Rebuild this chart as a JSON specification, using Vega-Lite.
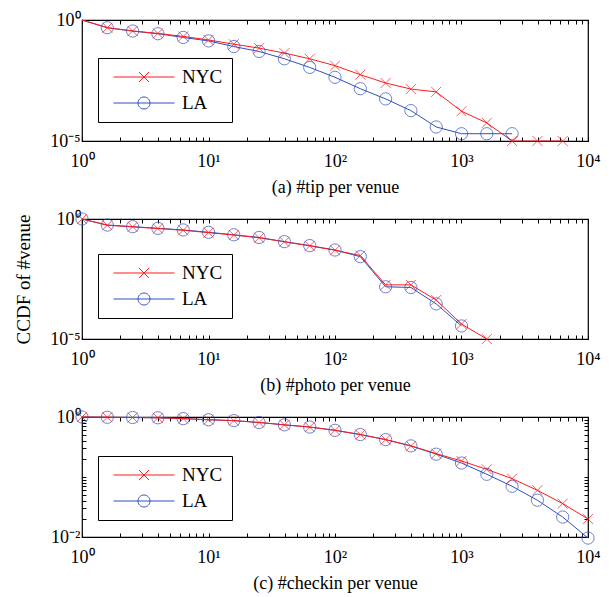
{
  "$schema": "https://vega.github.io/schema/vega-lite/v6.json",
  "padding": {"left": 14, "top": 10, "right": 12, "bottom": 5},
  "background": "white",
  "spacing": 78,
  "bounds": "flush",
  "config": {
    "font": "Liberation Serif",
    "view": {"stroke": "black", "strokeWidth": 1.2},
    "axis": {
      "labelFont": "Liberation Serif", "labelFontSize": 18, "labelColor": "black",
      "titleFont": "Liberation Serif", "titleFontSize": 18, "titleFontWeight": "normal", "titleColor": "black",
      "tickColor": "black", "tickSize": -4, "domain": false, "grid": false,
      "labelOverlap": false, "labelFlush": false, "labelBound": false
    },
    "legend": {
      "orient": "none", "legendX": 16, "legendY": 38, "title": null,
      "strokeColor": "black", "fillColor": "white", "padding": 9,
      "symbolSize": 3721, "symbolStrokeWidth": 1, "symbolFillColor": "transparent", "symbolOffset": 6,
      "labelFont": "Liberation Serif", "labelFontSize": 19, "labelColor": "black",
      "clipHeight": 20, "rowPadding": 6, "labelOffset": 7
    }
  },
  "datasets": {
    "tip": [
      {"city": "LA", "x": 1, "y": 1}, {"city": "LA", "x": 1.585, "y": 0.48}, {"city": "LA", "x": 2.512, "y": 0.35},
      {"city": "LA", "x": 3.981, "y": 0.27}, {"city": "LA", "x": 6.31, "y": 0.19}, {"city": "LA", "x": 10, "y": 0.137},
      {"city": "LA", "x": 15.85, "y": 0.08}, {"city": "LA", "x": 25.12, "y": 0.05}, {"city": "LA", "x": 39.81, "y": 0.025},
      {"city": "LA", "x": 63.1, "y": 0.011}, {"city": "LA", "x": 100, "y": 0.0043}, {"city": "LA", "x": 158.5, "y": 0.00145},
      {"city": "LA", "x": 251.2, "y": 0.00055}, {"city": "LA", "x": 398.1, "y": 0.00018}, {"city": "LA", "x": 631, "y": 0.000038},
      {"city": "LA", "x": 1000, "y": 0.00002}, {"city": "LA", "x": 1585, "y": 0.00002}, {"city": "LA", "x": 2512, "y": 0.00002},
      {"city": "NYC", "x": 1, "y": 1}, {"city": "NYC", "x": 1.585, "y": 0.48}, {"city": "NYC", "x": 2.512, "y": 0.35},
      {"city": "NYC", "x": 3.981, "y": 0.28}, {"city": "NYC", "x": 6.31, "y": 0.21}, {"city": "NYC", "x": 10, "y": 0.15},
      {"city": "NYC", "x": 15.85, "y": 0.1}, {"city": "NYC", "x": 25.12, "y": 0.069}, {"city": "NYC", "x": 39.81, "y": 0.043},
      {"city": "NYC", "x": 63.1, "y": 0.025}, {"city": "NYC", "x": 100, "y": 0.013}, {"city": "NYC", "x": 158.5, "y": 0.0055},
      {"city": "NYC", "x": 251.2, "y": 0.0025}, {"city": "NYC", "x": 398.1, "y": 0.0014}, {"city": "NYC", "x": 631, "y": 0.00107},
      {"city": "NYC", "x": 1000, "y": 0.00017}, {"city": "NYC", "x": 1585, "y": 0.000056}, {"city": "NYC", "x": 2512, "y": 0.00001},
      {"city": "NYC", "x": 3981, "y": 0.00001}, {"city": "NYC", "x": 6310, "y": 0.00001}
    ],
    "photo": [
      {"city": "LA", "x": 1, "y": 1}, {"city": "LA", "x": 1.585, "y": 0.56}, {"city": "LA", "x": 2.512, "y": 0.48},
      {"city": "LA", "x": 3.981, "y": 0.41}, {"city": "LA", "x": 6.31, "y": 0.35}, {"city": "LA", "x": 10, "y": 0.28},
      {"city": "LA", "x": 15.85, "y": 0.22}, {"city": "LA", "x": 25.12, "y": 0.17}, {"city": "LA", "x": 39.81, "y": 0.114},
      {"city": "LA", "x": 63.1, "y": 0.078}, {"city": "LA", "x": 100, "y": 0.051}, {"city": "LA", "x": 158.5, "y": 0.027},
      {"city": "LA", "x": 251.2, "y": 0.0015}, {"city": "LA", "x": 398.1, "y": 0.0014}, {"city": "LA", "x": 631, "y": 0.00029},
      {"city": "LA", "x": 1000, "y": 0.000035},
      {"city": "NYC", "x": 1, "y": 1}, {"city": "NYC", "x": 1.585, "y": 0.55}, {"city": "NYC", "x": 2.512, "y": 0.47},
      {"city": "NYC", "x": 3.981, "y": 0.4}, {"city": "NYC", "x": 6.31, "y": 0.34}, {"city": "NYC", "x": 10, "y": 0.27},
      {"city": "NYC", "x": 15.85, "y": 0.215}, {"city": "NYC", "x": 25.12, "y": 0.165}, {"city": "NYC", "x": 39.81, "y": 0.112},
      {"city": "NYC", "x": 63.1, "y": 0.076}, {"city": "NYC", "x": 100, "y": 0.05}, {"city": "NYC", "x": 158.5, "y": 0.03},
      {"city": "NYC", "x": 251.2, "y": 0.0018}, {"city": "NYC", "x": 398.1, "y": 0.0018}, {"city": "NYC", "x": 631, "y": 0.00042},
      {"city": "NYC", "x": 1000, "y": 0.000042}, {"city": "NYC", "x": 1585, "y": 0.00001}
    ],
    "checkin": [
      {"city": "LA", "x": 1, "y": 1}, {"city": "LA", "x": 1.585, "y": 0.99}, {"city": "LA", "x": 2.512, "y": 0.98},
      {"city": "LA", "x": 3.981, "y": 0.97}, {"city": "LA", "x": 6.31, "y": 0.94}, {"city": "LA", "x": 10, "y": 0.9},
      {"city": "LA", "x": 15.85, "y": 0.87}, {"city": "LA", "x": 25.12, "y": 0.81}, {"city": "LA", "x": 39.81, "y": 0.74},
      {"city": "LA", "x": 63.1, "y": 0.68}, {"city": "LA", "x": 100, "y": 0.6}, {"city": "LA", "x": 158.5, "y": 0.51},
      {"city": "LA", "x": 251.2, "y": 0.42}, {"city": "LA", "x": 398.1, "y": 0.33}, {"city": "LA", "x": 631, "y": 0.24},
      {"city": "LA", "x": 1000, "y": 0.171}, {"city": "LA", "x": 1585, "y": 0.111}, {"city": "LA", "x": 2512, "y": 0.07},
      {"city": "LA", "x": 3981, "y": 0.041}, {"city": "LA", "x": 6310, "y": 0.0215}, {"city": "LA", "x": 10000, "y": 0.0096},
      {"city": "NYC", "x": 1, "y": 1}, {"city": "NYC", "x": 1.585, "y": 0.99}, {"city": "NYC", "x": 2.512, "y": 0.98},
      {"city": "NYC", "x": 3.981, "y": 0.97}, {"city": "NYC", "x": 6.31, "y": 0.94}, {"city": "NYC", "x": 10, "y": 0.9},
      {"city": "NYC", "x": 15.85, "y": 0.87}, {"city": "NYC", "x": 25.12, "y": 0.81}, {"city": "NYC", "x": 39.81, "y": 0.74},
      {"city": "NYC", "x": 63.1, "y": 0.68}, {"city": "NYC", "x": 100, "y": 0.6}, {"city": "NYC", "x": 158.5, "y": 0.51},
      {"city": "NYC", "x": 251.2, "y": 0.42}, {"city": "NYC", "x": 398.1, "y": 0.33}, {"city": "NYC", "x": 631, "y": 0.245},
      {"city": "NYC", "x": 1000, "y": 0.185}, {"city": "NYC", "x": 1585, "y": 0.134}, {"city": "NYC", "x": 2512, "y": 0.094},
      {"city": "NYC", "x": 3981, "y": 0.06}, {"city": "NYC", "x": 6310, "y": 0.036}, {"city": "NYC", "x": 10000, "y": 0.02}
    ]
  },
  "vconcat": [
    {
      "width": 506, "height": 121,
      "data": {"name": "tip"},
      "resolve": {"axis": {"x": "independent", "y": "independent"}, "legend": {"color": "independent"}},
      "layer": [
        {
          "mark": {"type": "line", "strokeWidth": 1, "clip": false},
          "encoding": {
            "x": {"field": "x", "type": "quantitative", "scale": {"type": "log", "domain": [1, 10000]},
              "axis": {"orient": "bottom", "title": "(a) #tip per venue", "titlePadding": 8, "labelPadding": 15,
                "values": [1,2,3,4,5,6,7,8,9,10,20,30,40,50,60,70,80,90,100,200,300,400,500,600,700,800,900,1000,2000,3000,4000,5000,6000,7000,8000,9000,10000],
                "labelExpr": "datum.value === 1 ? '10⁰' : datum.value === 10 ? '10¹' : datum.value === 100 ? '10²' : datum.value === 1000 ? '10³' : datum.value === 10000 ? '10⁴' : ''"}},
            "y": {"field": "y", "type": "quantitative", "scale": {"type": "log", "domain": [0.00001, 1]},
              "axis": {"orient": "left", "title": null, "values": [0.00001, 1], "labelPadding": 6,
                "labelExpr": "datum.value === 1 ? '10⁰' : '10⁻⁵'"}},
            "color": {"field": "city", "type": "nominal", "scale": {"domain": ["NYC", "LA"], "range": ["#ff1a1a", "#2e4fc0"]},
              "legend": {"encode": {"symbols": {"update": {"shape": {"signal": "datum.value === 'NYC' ? 'M-1,0L1,0M-0.164,-0.164L0.164,0.164M-0.164,0.164L0.164,-0.164' : 'M-1,0L1,0M-0.197,0A0.197,0.197,0,1,1,0.197,0A0.197,0.197,0,1,1,-0.197,0'"}, "fill": {"value": "transparent"}}}}}}
          }
        },
        {
          "transform": [{"filter": "datum.city === 'LA' && datum.x > 1"}],
          "mark": {"type": "point", "shape": "circle", "size": 150, "color": "#2e4fc0", "filled": false, "strokeWidth": 1, "clip": false},
          "encoding": {
            "x": {"field": "x", "type": "quantitative", "axis": {"orient": "top", "title": null, "labels": false,
              "values": [1,2,3,4,5,6,7,8,9,10,20,30,40,50,60,70,80,90,100,200,300,400,500,600,700,800,900,1000,2000,3000,4000,5000,6000,7000,8000,9000,10000]}},
            "y": {"field": "y", "type": "quantitative", "axis": {"orient": "right", "title": null, "labels": false, "values": [0.00001, 1]}}
          }
        },
        {
          "transform": [{"filter": "datum.city === 'NYC' && datum.x > 1"}],
          "mark": {"type": "point", "shape": "M-1,-1L1,1M-1,1L1,-1", "size": 100, "color": "#ff1a1a", "filled": false, "strokeWidth": 1, "clip": false},
          "encoding": {
            "x": {"field": "x", "type": "quantitative", "axis": null},
            "y": {"field": "y", "type": "quantitative", "axis": null}
          }
        }
      ]
    },
    {
      "width": 506, "height": 120,
      "data": {"name": "photo"},
      "resolve": {"axis": {"x": "independent", "y": "independent"}, "legend": {"color": "independent"}},
      "layer": [
        {
          "mark": {"type": "line", "strokeWidth": 1, "clip": false},
          "encoding": {
            "x": {"field": "x", "type": "quantitative", "scale": {"type": "log", "domain": [1, 10000]},
              "axis": {"orient": "bottom", "title": "(b) #photo per venue", "titlePadding": 8, "labelPadding": 15,
                "values": [1,2,3,4,5,6,7,8,9,10,20,30,40,50,60,70,80,90,100,200,300,400,500,600,700,800,900,1000,2000,3000,4000,5000,6000,7000,8000,9000,10000],
                "labelExpr": "datum.value === 1 ? '10⁰' : datum.value === 10 ? '10¹' : datum.value === 100 ? '10²' : datum.value === 1000 ? '10³' : datum.value === 10000 ? '10⁴' : ''"}},
            "y": {"field": "y", "type": "quantitative", "scale": {"type": "log", "domain": [0.00001, 1]},
              "axis": {"orient": "left", "title": "CCDF of #venue", "titleFontSize": 19, "titlePadding": 16, "values": [0.00001, 1], "labelPadding": 6,
                "labelExpr": "datum.value === 1 ? '10⁰' : '10⁻⁵'"}},
            "color": {"field": "city", "type": "nominal", "scale": {"domain": ["NYC", "LA"], "range": ["#ff1a1a", "#2e4fc0"]},
              "legend": {"legendY": 35, "encode": {"symbols": {"update": {"shape": {"signal": "datum.value === 'NYC' ? 'M-1,0L1,0M-0.164,-0.164L0.164,0.164M-0.164,0.164L0.164,-0.164' : 'M-1,0L1,0M-0.197,0A0.197,0.197,0,1,1,0.197,0A0.197,0.197,0,1,1,-0.197,0'"}, "fill": {"value": "transparent"}}}}}}
          }
        },
        {
          "transform": [{"filter": "datum.city === 'LA'"}],
          "mark": {"type": "point", "shape": "circle", "size": 150, "color": "#2e4fc0", "filled": false, "strokeWidth": 1, "clip": false},
          "encoding": {
            "x": {"field": "x", "type": "quantitative", "axis": {"orient": "top", "title": null, "labels": false,
              "values": [1,2,3,4,5,6,7,8,9,10,20,30,40,50,60,70,80,90,100,200,300,400,500,600,700,800,900,1000,2000,3000,4000,5000,6000,7000,8000,9000,10000]}},
            "y": {"field": "y", "type": "quantitative", "axis": {"orient": "right", "title": null, "labels": false, "values": [0.00001, 1]}}
          }
        },
        {
          "transform": [{"filter": "datum.city === 'NYC'"}],
          "mark": {"type": "point", "shape": "M-1,-1L1,1M-1,1L1,-1", "size": 100, "color": "#ff1a1a", "filled": false, "strokeWidth": 1, "clip": false},
          "encoding": {
            "x": {"field": "x", "type": "quantitative", "axis": null},
            "y": {"field": "y", "type": "quantitative", "axis": null}
          }
        }
      ]
    },
    {
      "width": 506, "height": 120,
      "data": {"name": "checkin"},
      "resolve": {"axis": {"x": "independent", "y": "independent"}, "legend": {"color": "independent"}},
      "layer": [
        {
          "mark": {"type": "line", "strokeWidth": 1, "clip": false},
          "encoding": {
            "x": {"field": "x", "type": "quantitative", "scale": {"type": "log", "domain": [1, 10000]},
              "axis": {"orient": "bottom", "title": "(c) #checkin per venue", "titlePadding": 8, "labelPadding": 15,
                "values": [1,2,3,4,5,6,7,8,9,10,20,30,40,50,60,70,80,90,100,200,300,400,500,600,700,800,900,1000,2000,3000,4000,5000,6000,7000,8000,9000,10000],
                "labelExpr": "datum.value === 1 ? '10⁰' : datum.value === 10 ? '10¹' : datum.value === 100 ? '10²' : datum.value === 1000 ? '10³' : datum.value === 10000 ? '10⁴' : ''"}},
            "y": {"field": "y", "type": "quantitative", "scale": {"type": "log", "domain": [0.01, 1]},
              "axis": {"orient": "left", "title": null, "labelPadding": 6,
                "values": [0.01,0.02,0.03,0.04,0.05,0.06,0.07,0.08,0.09,0.1,0.2,0.3,0.4,0.5,0.6,0.7,0.8,0.9,1],
                "labelExpr": "datum.value === 1 ? '10⁰' : datum.value === 0.01 ? '10⁻²' : ''"}},
            "color": {"field": "city", "type": "nominal", "scale": {"domain": ["NYC", "LA"], "range": ["#ff1a1a", "#2e4fc0"]},
              "legend": {"legendY": 39, "encode": {"symbols": {"update": {"shape": {"signal": "datum.value === 'NYC' ? 'M-1,0L1,0M-0.164,-0.164L0.164,0.164M-0.164,0.164L0.164,-0.164' : 'M-1,0L1,0M-0.197,0A0.197,0.197,0,1,1,0.197,0A0.197,0.197,0,1,1,-0.197,0'"}, "fill": {"value": "transparent"}}}}}}
          }
        },
        {
          "transform": [{"filter": "datum.city === 'LA'"}],
          "mark": {"type": "point", "shape": "circle", "size": 150, "color": "#2e4fc0", "filled": false, "strokeWidth": 1, "clip": false},
          "encoding": {
            "x": {"field": "x", "type": "quantitative", "axis": {"orient": "top", "title": null, "labels": false,
              "values": [1,2,3,4,5,6,7,8,9,10,20,30,40,50,60,70,80,90,100,200,300,400,500,600,700,800,900,1000,2000,3000,4000,5000,6000,7000,8000,9000,10000]}},
            "y": {"field": "y", "type": "quantitative", "axis": {"orient": "right", "title": null, "labels": false,
              "values": [0.01,0.02,0.03,0.04,0.05,0.06,0.07,0.08,0.09,0.1,0.2,0.3,0.4,0.5,0.6,0.7,0.8,0.9,1]}}
          }
        },
        {
          "transform": [{"filter": "datum.city === 'NYC'"}],
          "mark": {"type": "point", "shape": "M-1,-1L1,1M-1,1L1,-1", "size": 100, "color": "#ff1a1a", "filled": false, "strokeWidth": 1, "clip": false},
          "encoding": {
            "x": {"field": "x", "type": "quantitative", "axis": null},
            "y": {"field": "y", "type": "quantitative", "axis": null}
          }
        }
      ]
    }
  ]
}
